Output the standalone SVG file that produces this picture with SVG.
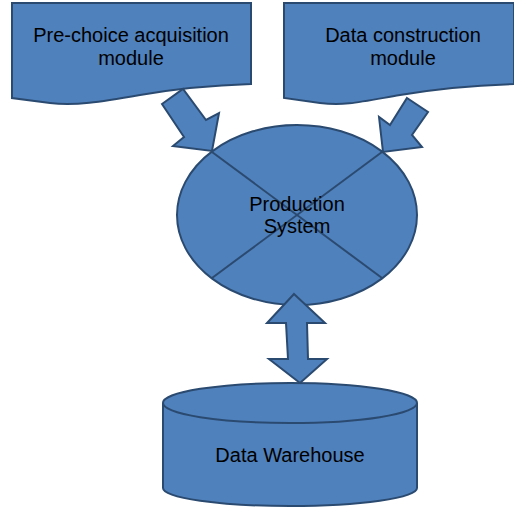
<svg xmlns="http://www.w3.org/2000/svg" width="514" height="508" viewBox="0 0 514 508">
<style>
.s{fill:#4F81BD;stroke:#2B4A70;stroke-width:2;stroke-linejoin:miter}
.t{font-family:"Liberation Sans",Arial,sans-serif;font-size:20px;fill:#000;text-anchor:middle}
.l{fill:none;stroke:#2B4A70;stroke-width:2}
</style>
<g id="pre-choice">
<path class="s" d="M12,3 H251 V84 C220,85 180,88 140,95 C100,102 75,106 50,103 C35,101 20,99 12,98 Z"/>
<text class="t" x="131" y="42">Pre-choice acquisition</text>
<text class="t" x="131" y="65">module</text>
</g>
<g id="data-construction">
<path class="s" d="M284,3 H514 V84 C480,85 440,88 400,95 C360,102 345,106 320,103 C305,101 292,99 284,98 Z"/>
<text class="t" x="403" y="42">Data construction</text>
<text class="t" x="403" y="65">module</text>
</g>
<g id="production">
<ellipse class="s" cx="297" cy="215" rx="120" ry="90"/>
<line class="l" x1="212" y1="152" x2="382" y2="278"/>
<line class="l" x1="382" y1="152" x2="212" y2="278"/>
<text class="t" x="297" y="211">Production</text>
<text class="t" x="297" y="233">System</text>
</g>
<g id="warehouse">
<path class="s" d="M163,403 V488 A127,18 0 0 0 417,488 V403 A127,20 0 0 0 163,403 Z"/>
<path class="l" d="M163,403 A127,20 0 0 0 417,403"/>
<text class="t" x="290" y="462">Data Warehouse</text>
</g>
<g id="connectors">
<polygon class="s" points="162,104 183,89 206,120 219,113 212,151 173,146 184,137"/>
<polygon class="s" points="407,98 428,112 412,135 422,147 383,152 379,117 390,125"/>
<polygon class="s" points="294,294 325,323 307,323 308,359 327,359 300,383 269,359 288,359 286,323 267,323"/>
</g>
</svg>
